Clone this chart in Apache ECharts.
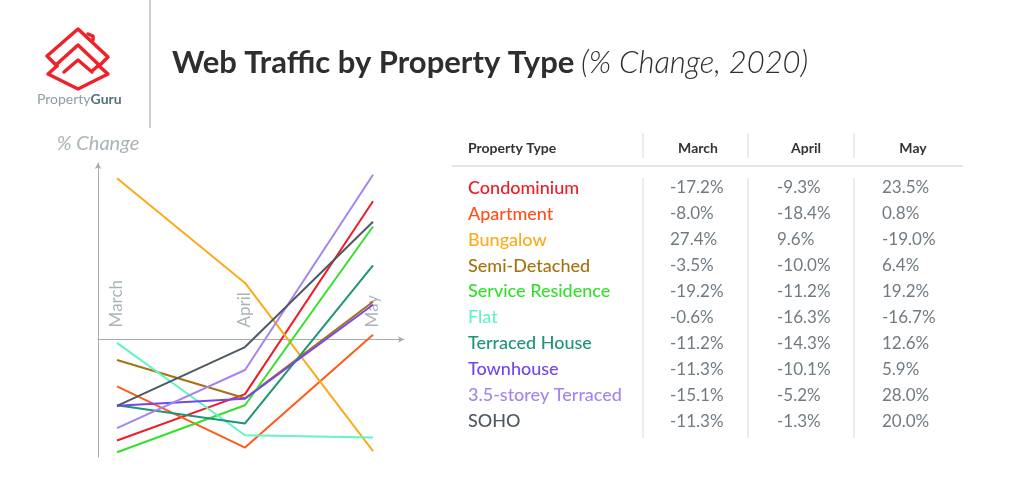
<!DOCTYPE html>
<html>
<head>
<meta charset="utf-8">
<script src="https://cdn.jsdelivr.net/npm/echarts@6/dist/echarts.min.js"></script>
<style>
html,body{margin:0;padding:0;background:#fff;}
#c{width:1024px;height:488px;}
</style>
</head>
<body>
<div id="c"></div>
<script>
// ---- data ----
var months = ['March', 'April', 'May'];
var propertyTypes = ['Condominium', 'Apartment', 'Bungalow', 'Semi-Detached', 'Service Residence', 'Flat', 'Terraced House', 'Townhouse', '3.5-storey Terraced', 'SOHO'];
var marchValues = [-17.2, -8.0, 27.4, -3.5, -19.2, -0.6, -11.2, -11.3, -15.1, -11.3];
var aprilValues = [-9.3, -18.4, 9.6, -10.0, -11.2, -16.3, -14.3, -10.1, -5.2, -1.3];
var mayValues = [23.5, 0.8, -19.0, 6.4, 19.2, -16.7, 12.6, 5.9, 28.0, 20.0];
var typeColors = ['#ee1c25', '#ff5a1a', '#fbab18', '#a8710f', '#34e02c', '#5ff5c4', '#1f9478', '#7446ee', '#a584f0', '#4d5a63'];
var textColors = ['#ee1c25', '#ff4f1a', '#fbab18', '#a8710f', '#34e02c', '#5ff5c4', '#1f9478', '#7446ee', '#a584f0', '#4d5a63'];
var yMin = -20, yMax = 30;

var FONT = 'Lato, "Noto Sans", sans-serif';
var fmt = function (v) { return v.toFixed(1) + '%'; };

var series = propertyTypes.map(function (name, i) {
  return {
    name: name,
    type: 'line',
    xAxisIndex: 1,
    yAxisIndex: 1,
    data: [marchValues[i], aprilValues[i], mayValues[i]],
    symbol: 'none',
    lineStyle: { width: 2, color: typeColors[i] },
    itemStyle: { color: typeColors[i] },
    z: 3
  };
});

// ---- table graphics ----
var colSepX = [643, 748, 854];
var valueX = [670, 777, 882];
var headerCX = [698, 806, 913];
var rowY0 = 188, rowStep = 25.9;
var graphics = [];
// logo
var red = '#ef2229';
function pl(points) {
  return { type: 'polyline', shape: { points: points }, style: { stroke: red, lineWidth: 3.5, fill: null, lineJoin: 'round', lineCap: 'round' } };
}
graphics.push(pl([[57, 66], [47, 56], [78, 29], [108, 57], [99, 66]]));
graphics.push(pl([[88, 34], [93, 36], [93, 40]]));
graphics.push(pl([[57, 64], [78, 45], [99, 65], [92, 71]]));
graphics.push(pl([[64, 72], [78, 60], [92, 72]]));
graphics.push(pl([[57, 66], [48, 74], [78, 89], [108, 74], [99, 66]]));
graphics.push({
  type: 'text', left: 37, top: 92,
  style: { text: '{a|Property}{b|Guru}', font: '14px ' + FONT, rich: { a: { fill: '#8e9ea4', fontSize: 14, fontFamily: FONT }, b: { fill: '#56707a', fontSize: 14, fontWeight: 'bold', fontFamily: FONT } } }
});
// separator
graphics.push({ type: 'line', shape: { x1: 150, y1: 0, x2: 150, y2: 128 }, style: { stroke: '#c9cfd2', lineWidth: 2 } });
// title
graphics.push({
  type: 'text', left: 172, top: 47,
  style: {
    text: '{b|Web Traffic by Property Type}  {i|(% Change, 2020)}',
    rich: {
      b: { fontSize: 31, fontWeight: 'bold', fill: '#2e2e2e', fontFamily: FONT },
      i: { fontSize: 31, fontStyle: 'italic', fontWeight: 300, fill: '#2e2e2e', fontFamily: FONT }
    }
  }
});
// table header
graphics.push({ type: 'text', x: 468, y: 148, style: { text: 'Property Type', fontSize: 14, fontWeight: 'bold', fill: '#333', fontFamily: FONT, verticalAlign: 'middle', align: 'left' } });
months.forEach(function (m, j) {
  graphics.push({ type: 'text', x: headerCX[j], y: 148, style: { text: m, fontSize: 14, fontWeight: 'bold', fill: '#333', fontFamily: FONT, verticalAlign: 'middle', align: 'center' } });
});
colSepX.forEach(function (x) {
  graphics.push({ type: 'line', shape: { x1: x, y1: 133, x2: x, y2: 158 }, style: { stroke: '#d3d8db', lineWidth: 1 } });
  graphics.push({ type: 'line', shape: { x1: x, y1: 178, x2: x, y2: 438 }, style: { stroke: '#d3d8db', lineWidth: 1 } });
});
graphics.push({ type: 'line', shape: { x1: 452, y1: 166, x2: 963, y2: 166 }, style: { stroke: '#e2e6e8', lineWidth: 2 } });
// table rows
var cols = [marchValues, aprilValues, mayValues];
propertyTypes.forEach(function (name, i) {
  var y = rowY0 + i * rowStep;
  graphics.push({ type: 'text', x: 468, y: y, style: { text: name, fontSize: 18, fontWeight: 500, fill: textColors[i], fontFamily: FONT, verticalAlign: 'middle', align: 'left' } });
  cols.forEach(function (arr, j) {
    graphics.push({ type: 'text', x: valueX[j], y: y, style: { text: fmt(arr[i]), fontSize: 17, fill: '#6f7b83', fontFamily: FONT, verticalAlign: 'middle', align: 'left' } });
  });
});

var axisGrey = '#a3adb2';
var gridTop = 163, gridBottom = 31, chartH = 488 - gridTop - gridBottom;
var zeroOffset = -chartH * (0 - yMin) / (yMax - yMin); // lift category labels to the zero line

var option = {
  animation: false,
  backgroundColor: '#ffffff',
  grid: [
    { left: 98, right: 620, top: gridTop, bottom: gridBottom },
    { left: 117, right: 651, top: gridTop, bottom: gridBottom }
  ],
  xAxis: [
    {
      type: 'value', gridIndex: 0, min: 0, max: 1,
      axisLine: { show: true, onZero: true, symbol: ['none', 'arrow'], symbolSize: [5, 6], lineStyle: { color: axisGrey, width: 1 } },
      axisTick: { show: false }, axisLabel: { show: false }, splitLine: { show: false }
    },
    {
      type: 'category', gridIndex: 1, data: months, boundaryGap: false,
      position: 'bottom', offset: zeroOffset,
      axisLine: { show: false, onZero: false },
      axisTick: { show: false },
      axisLabel: { show: true, inside: true, rotate: 90, margin: 12, color: '#a9b4b9', fontSize: 17, fontFamily: FONT },
      splitLine: { show: false }
    }
  ],
  yAxis: [
    {
      type: 'value', gridIndex: 0, min: yMin, max: yMax,
      name: '% Change', nameLocation: 'end', nameGap: 9,
      nameTextStyle: { color: '#a9b4b9', fontSize: 20, fontStyle: 'italic', fontFamily: FONT, align: 'center' },
      axisLine: { show: true, symbol: ['none', 'arrow'], symbolSize: [5, 6], lineStyle: { color: axisGrey, width: 1 } },
      axisTick: { show: false }, axisLabel: { show: false }, splitLine: { show: false }
    },
    {
      type: 'value', gridIndex: 1, min: yMin, max: yMax,
      axisLine: { show: false }, axisTick: { show: false }, axisLabel: { show: false },
      splitLine: { show: false }
    }
  ],
  series: series,
  graphic: graphics
};

var chart = echarts.init(document.getElementById('c'), null, { renderer: 'canvas' });
chart.setOption(option);
</script>
</body>
</html>
